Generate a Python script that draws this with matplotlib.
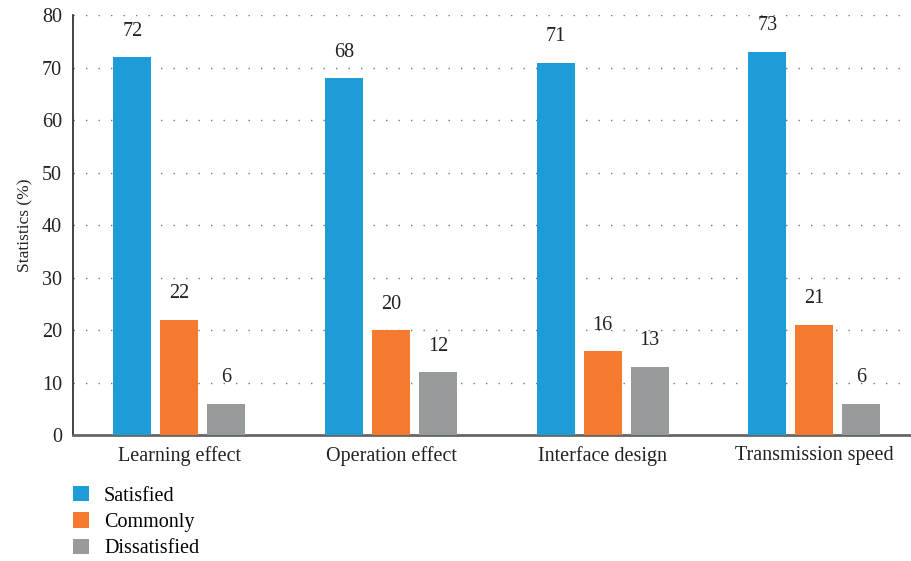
import matplotlib.pyplot as plt
import numpy as np
from matplotlib.patches import Patch

categories = ["Learning effect", "Operation effect", "Interface design", "Transmission speed"]
series = ["Satisfied", "Commonly", "Dissatisfied"]
satisfied = [72, 68, 71, 73]
commonly = [22, 20, 16, 21]
dissatisfied = [6, 12, 13, 6]
colors = ["#1E9CD7", "#F47A30", "#989B9B"]

plt.rcParams['font.family'] = ['Liberation Serif', 'DejaVu Serif']
fs = 14.5

fig = plt.figure(figsize=(9.11, 5.61), dpi=100)
ax = fig.add_axes([0.0801, 0.224, 0.93, 0.7487])

x = np.arange(len(categories))
width = 0.18
step = 0.222
for i, (vals, col) in enumerate(zip([satisfied, commonly, dissatisfied], colors)):
    pos = x + (i - 1) * step
    ax.bar(pos, vals, width=width, color=col, zorder=3)
    for p, v in zip(pos, vals):
        ax.annotate(str(v), (p, v), xytext=(0, 12), textcoords="offset points",
                    ha="center", va="bottom", fontsize=fs, color="#222222")

ax.set_xlim(-0.503, 3.46 + 0.04)
ax.set_ylim(0, 80)
ax.set_yticks(range(0, 81, 10))
ax.set_xticks(x)
ax.set_xticklabels(categories, fontsize=fs, color="#222222")
ax.tick_params(axis="y", labelsize=fs, colors="#222222", length=0, pad=8)
ax.tick_params(axis="x", length=0, pad=8)
ax.yaxis.grid(True, linestyle=(0, (1, 8)), color="#777777", linewidth=1.0)
ax.set_axisbelow(True)
ax.set_ylabel("Statistics (%)", fontsize=12.5, color="#222222", labelpad=6)

for s in ["top", "right"]:
    ax.spines[s].set_visible(False)
ax.spines["left"].set_color("#222222")
ax.spines["left"].set_linewidth(1.2)
ax.spines["bottom"].set_color("#666666")
ax.spines["bottom"].set_linewidth(2)

handles = [Patch(facecolor=c, edgecolor="none") for c in colors]
fig.legend(handles, series, loc="upper left", bbox_to_anchor=(0.08, 0.134),
           frameon=False, prop={"family": "Liberation Serif", "size": fs},
           handlelength=0.8, handleheight=0.8,
           labelspacing=0.33, handletextpad=0.75, borderaxespad=0, borderpad=0)

fig.savefig("out.png", dpi=100)
